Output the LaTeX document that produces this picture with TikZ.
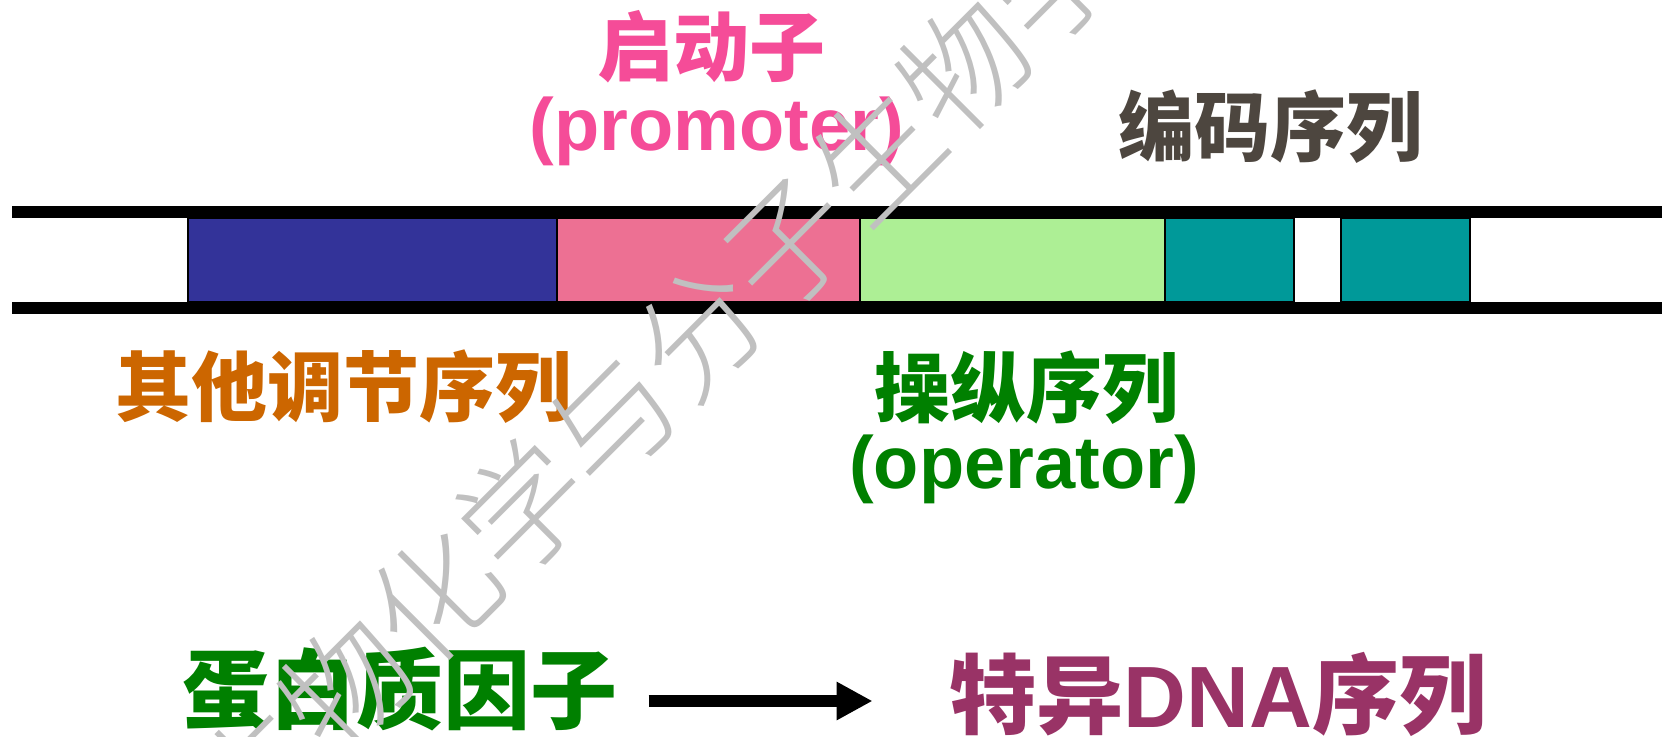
\documentclass[tikz,border=0pt]{standalone}
\usepackage{fontspec}
\setmainfont{Liberation Sans}
\newfontfamily\cjk{Noto Sans CJK SC}
\newfontfamily\wmfont{Noto Sans CJK SC Light}
\usetikzlibrary{arrows.meta}
\definecolor{boxblue}{RGB}{51,51,153}
\definecolor{boxpink}{RGB}{237,112,147}
\definecolor{boxgreen}{RGB}{173,239,149}
\definecolor{boxteal}{RGB}{0,153,153}
\definecolor{txtpink}{RGB}{245,76,152}
\definecolor{txtdark}{RGB}{77,70,63}
\definecolor{txtorange}{RGB}{204,102,0}
\definecolor{txtgreen}{RGB}{0,128,0}
\definecolor{txtpurple}{RGB}{153,51,102}
\definecolor{wmgray}{RGB}{192,192,192}
\begin{document}
\begin{tikzpicture}[x=1pt,y=-1pt,
  cjkA/.style={inner sep=0pt,font=\cjk\bfseries\fontsize{76}{80}\selectfont},
  latA/.style={inner sep=0pt,font=\bfseries\fontsize{74}{80}\selectfont},
  bigA/.style={inner sep=0pt,font=\bfseries\fontsize{87}{90}\selectfont},
  bar/.style={fill=black,draw=none},
  seg/.style={draw=black,line width=1.5pt},
  arr/.style={-{Triangle[length=36pt,width=36pt]},line width=12pt},
  wm/.style={inner sep=0pt,text=wmgray,rotate=45,font=\wmfont\fontsize{125}{125}\selectfont}]
\path[fill=white,use as bounding box] (0,0) rectangle (1662,736);
% DNA bars
\path[bar] (12,206) rectangle (1662,218);
\path[bar] (12,302) rectangle (1662,314);
% segments
\path[seg,fill=boxblue] (188,218) rectangle (557,302);
\path[seg,fill=boxpink] (557,218) rectangle (860,302);
\path[seg,fill=boxgreen] (860,218) rectangle (1165,302);
\path[seg,fill=boxteal] (1165,218) rectangle (1294,302);
\path[seg,fill=boxteal] (1341,218) rectangle (1470,302);
% labels
\node[cjkA,text=txtpink] (prom) at (711,47) {启动子};
\node[latA,text=txtpink] (promen) at (717,131) {(promoter)};
\node[cjkA,text=txtdark] (code) at (1270,127) {编码序列};
\node[cjkA,text=txtorange] (other) at (343,387) {其他调节序列};
\node[cjkA,text=txtgreen] (oper) at (1026,388) {操纵序列};
\node[latA,text=txtgreen] (operen) at (1024,469) {(operator)};
\node[bigA,text=txtgreen] (prot) at (400,689) {\cjk 蛋白质因子};
\node[bigA,text=txtpurple] (dna) at (1218,694) {{\cjk 特异}DNA{\cjk 序列}};
\draw[arr,shorten <=31pt,shorten >=77pt] ([yshift=-12pt]prot.east) -- ([yshift=-12pt]prot.east -| dna.west);
% watermark
\node[wm] (mark) at (655,375) {生物化学与分子生物学};
\end{tikzpicture}
\end{document}
